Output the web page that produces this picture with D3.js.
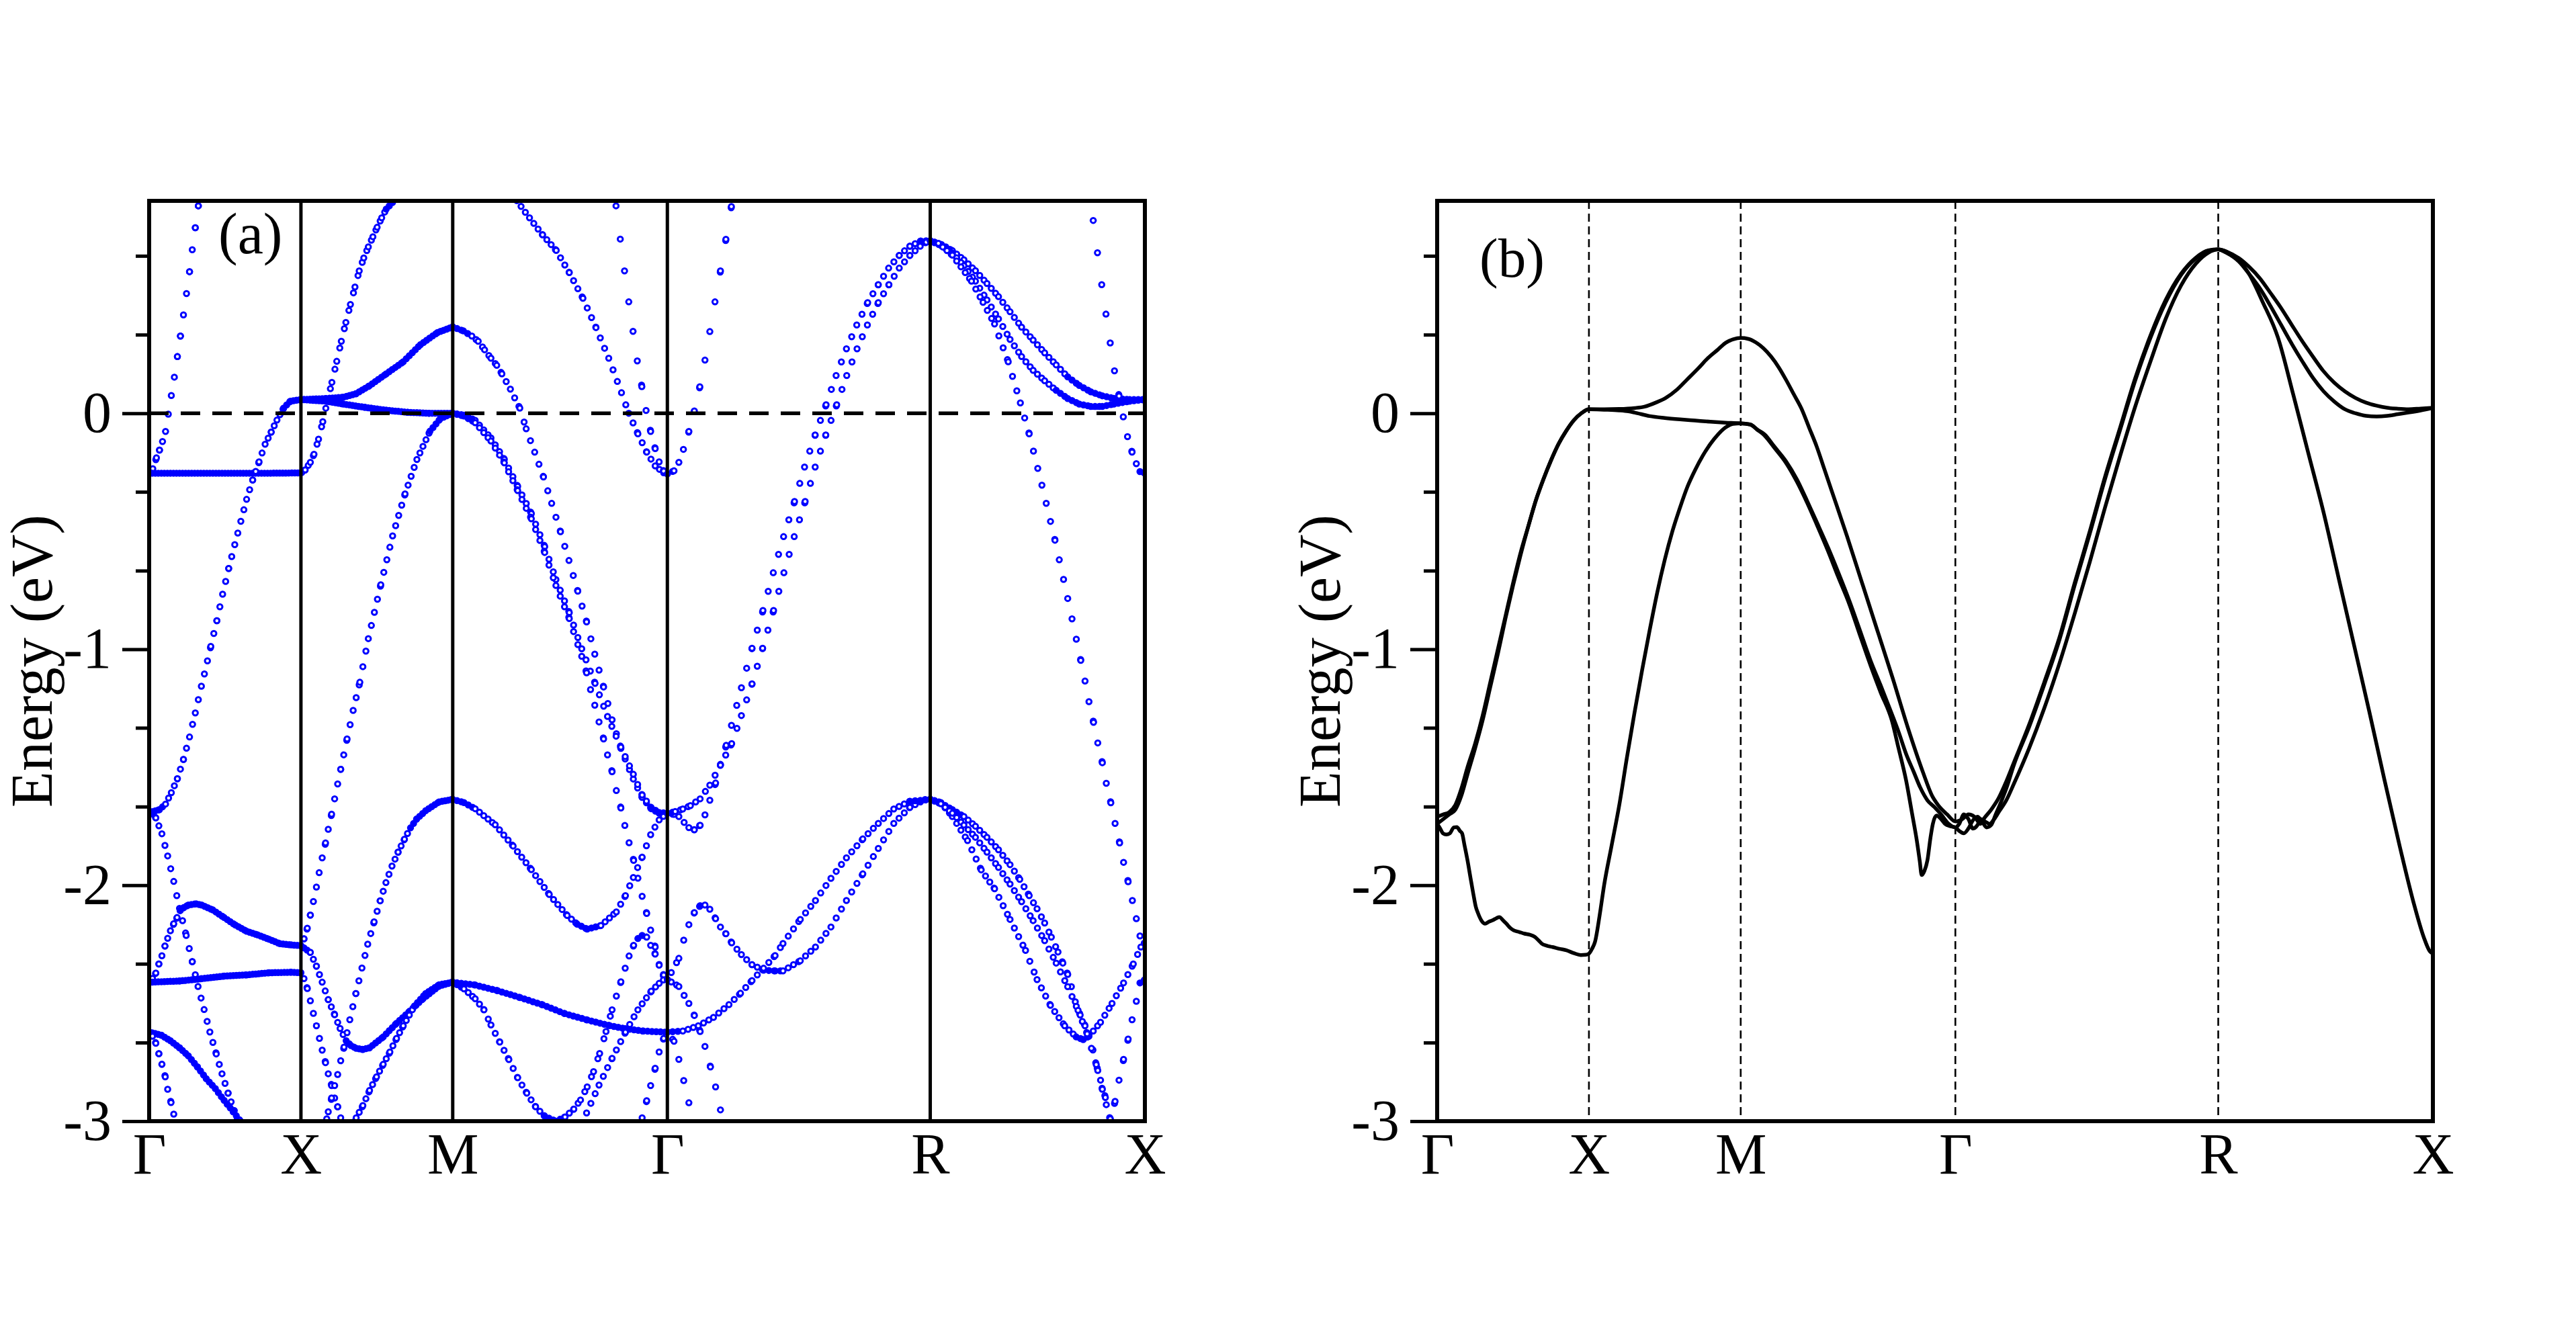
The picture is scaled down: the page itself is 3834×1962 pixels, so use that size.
<!DOCTYPE html>
<html><head><meta charset="utf-8">
<script src="https://cdn.jsdelivr.net/npm/d3@7"></script>
<style>html,body{margin:0;padding:0;background:#fff;}svg{display:block;}</style>
</head><body>
<svg id="chart" width="3834" height="1962"></svg>
<script>
// ---------------- data ----------------
const kLabels = ["Γ", "X", "M", "Γ", "R", "X"];
const kPoints = [0, 0.5, 1.0, 1.7071, 2.5731, 3.2802];
const energyRange = [-3, 0.9];
const yMajorTicks = [-3, -2, -1, 0];
const yMinorTicks = [-2.667, -2.333, -1.667, -1.333, -0.667, -0.333, 0.333, 0.667];
const panelLabels = ["(a)", "(b)"];
const axisTitle = "Energy (eV)";

// panel (a): unfolded bands (k, E)
const aGammaSteepUp = [[0,-0.254],[0.012,-0.235],[0.024,-0.189],[0.034,-0.156],[0.044,-0.12],[0.054,-0.077],[0.063,-0.004],[0.073,0.075],[0.083,0.153],[0.093,0.24],[0.103,0.327],[0.113,0.417],[0.123,0.507],[0.133,0.60],[0.142,0.693],[0.152,0.786],[0.162,0.879],[0.172,0.97]];
const aFlatThenUp = [[0,-0.254],[0.1,-0.254],[0.2,-0.254],[0.3,-0.254],[0.4,-0.254],[0.49,-0.253],[0.503,-0.251],[0.514,-0.24],[0.531,-0.208],[0.543,-0.174],[0.558,-0.11],[0.572,-0.036],[0.587,0.05],[0.602,0.131],[0.618,0.22],[0.633,0.305],[0.648,0.385],[0.663,0.461],[0.678,0.535],[0.692,0.603],[0.707,0.658],[0.722,0.705],[0.737,0.748],[0.751,0.788],[0.766,0.828],[0.781,0.865],[0.802,0.894],[0.83,0.93]];
const aGammaToXTop = [[0,-1.692],[0.034,-1.680],[0.054,-1.656],[0.073,-1.608],[0.093,-1.549],[0.113,-1.467],[0.133,-1.372],[0.152,-1.270],[0.172,-1.157],[0.182,-1.105],[0.203,-0.988],[0.223,-0.879],[0.242,-0.767],[0.262,-0.658],[0.282,-0.557],[0.302,-0.458],[0.321,-0.365],[0.341,-0.283],[0.362,-0.206],[0.382,-0.131],[0.402,-0.080],[0.421,-0.029],[0.443,0.022],[0.465,0.051],[0.5,0.058],[0.584,0.0625],[0.640,0.068],[0.682,0.083],[0.725,0.116],[0.781,0.167],[0.837,0.218],[0.894,0.291],[0.950,0.342],[1.0,0.366],[1.035,0.349],[1.063,0.327],[1.084,0.305],[1.105,0.269],[1.126,0.233],[1.145,0.203],[1.162,0.167],[1.190,0.102],[1.204,0.065],[1.221,0.022],[1.242,-0.066],[1.270,-0.165],[1.299,-0.270],[1.326,-0.382],[1.355,-0.502],[1.383,-0.624],[1.412,-0.754],[1.441,-0.884],[1.468,-1.021],[1.497,-1.160],[1.525,-1.299],[1.554,-1.42],[1.595,-1.55],[1.624,-1.628],[1.654,-1.676],[1.680,-1.695],[1.7071,-1.695]];
const aXtoMFlat = [[0.5,0.058],[0.584,0.051],[0.640,0.039],[0.711,0.025],[0.781,0.013],[0.852,0.004],[0.922,0.0],[1.0,0.0],[1.037,-0.008],[1.074,-0.030],[1.126,-0.105],[1.170,-0.195],[1.214,-0.31],[1.259,-0.425],[1.303,-0.565],[1.340,-0.705],[1.384,-0.845],[1.425,-0.998],[1.469,-1.145],[1.510,-1.285],[1.554,-1.415],[1.595,-1.53],[1.624,-1.618],[1.654,-1.672],[1.680,-1.692],[1.7071,-1.695]];
const aXtoMSteep = [[0.5,-2.256],[0.510,-2.227],[0.521,-2.182],[0.531,-2.127],[0.541,-2.069],[0.551,-2.008],[0.560,-1.947],[0.570,-1.884],[0.581,-1.821],[0.590,-1.763],[0.601,-1.699],[0.611,-1.634],[0.621,-1.571],[0.631,-1.509],[0.652,-1.38],[0.672,-1.259],[0.694,-1.14],[0.722,-0.955],[0.763,-0.727],[0.802,-0.520],[0.843,-0.342],[0.882,-0.196],[0.925,-0.076],[0.960,-0.022],[1.0,0.0],[1.037,-0.012],[1.074,-0.04],[1.126,-0.118],[1.170,-0.21],[1.214,-0.328],[1.259,-0.447],[1.303,-0.59],[1.340,-0.73],[1.384,-0.87],[1.425,-1.03],[1.441,-1.10],[1.454,-1.171],[1.468,-1.237],[1.482,-1.308],[1.497,-1.38],[1.510,-1.448],[1.525,-1.519],[1.539,-1.599],[1.554,-1.673],[1.567,-1.747],[1.581,-1.82],[1.596,-1.895],[1.610,-1.97],[1.624,-2.047],[1.639,-2.12],[1.652,-2.19],[1.667,-2.262],[1.680,-2.336],[1.695,-2.386],[1.7071,-2.40]];
const aTopToGammaA = [[1.19,0.94],[1.211,0.901],[1.253,0.828],[1.296,0.756],[1.341,0.690],[1.384,0.596],[1.429,0.487],[1.472,0.363],[1.514,0.233],[1.556,0.087],[1.580,0.0],[1.610,-0.087],[1.639,-0.165],[1.667,-0.223],[1.695,-0.252],[1.7071,-0.257]];
const aTopToGammaB = [[1.532,0.96],[1.538,0.879],[1.552,0.738],[1.566,0.603],[1.580,0.472],[1.594,0.347],[1.608,0.222],[1.623,0.113],[1.637,0.012],[1.652,-0.077],[1.667,-0.150],[1.680,-0.206],[1.695,-0.245],[1.7071,-0.257]];
const aGammaToTop = [[1.7071,-0.257],[1.729,-0.244],[1.745,-0.208],[1.760,-0.153],[1.778,-0.077],[1.796,0.010],[1.814,0.112],[1.831,0.225],[1.847,0.346],[1.864,0.472],[1.882,0.603],[1.900,0.737],[1.918,0.876],[1.93,0.97]];
const aGammaDown = [[0,-1.692],[0.011,-1.698],[0.022,-1.715],[0.042,-1.782],[0.061,-1.876],[0.081,-1.984],[0.100,-2.098],[0.122,-2.213],[0.142,-2.324],[0.161,-2.429],[0.181,-2.527],[0.200,-2.622],[0.221,-2.715],[0.240,-2.799],[0.260,-2.881],[0.280,-2.955],[0.300,-3.03]];
const aGammaHump = [[0,-2.411],[0.011,-2.395],[0.022,-2.372],[0.032,-2.334],[0.042,-2.299],[0.052,-2.258],[0.061,-2.225],[0.070,-2.193],[0.081,-2.163],[0.092,-2.137],[0.103,-2.105],[0.114,-2.095],[0.129,-2.084],[0.155,-2.079],[0.173,-2.084],[0.210,-2.105],[0.247,-2.137],[0.284,-2.169],[0.321,-2.195],[0.358,-2.211],[0.395,-2.229],[0.431,-2.248],[0.468,-2.253],[0.5,-2.256],[0.531,-2.285],[0.551,-2.343],[0.570,-2.411],[0.590,-2.485],[0.611,-2.549],[0.629,-2.607],[0.649,-2.659],[0.665,-2.68],[0.682,-2.691],[0.704,-2.696],[0.726,-2.689],[0.771,-2.643],[0.815,-2.585],[0.859,-2.533],[0.903,-2.480],[0.955,-2.427],[1.0,-2.411],[1.074,-2.423],[1.148,-2.447],[1.222,-2.476],[1.296,-2.507],[1.369,-2.544],[1.443,-2.571],[1.517,-2.595],[1.569,-2.608],[1.628,-2.618],[1.7071,-2.623]];
const aFlatLow = [[0,-2.411],[0.1,-2.406],[0.173,-2.396],[0.247,-2.385],[0.321,-2.380],[0.395,-2.371],[0.468,-2.369],[0.5,-2.371],[0.510,-2.396],[0.521,-2.438],[0.531,-2.490],[0.541,-2.543],[0.551,-2.596],[0.561,-2.649],[0.570,-2.699],[0.581,-2.752],[0.590,-2.799],[0.601,-2.849],[0.611,-2.902],[0.621,-2.939],[0.631,-2.986],[0.64,-3.04]];
const aGammaLowA = [[0,-2.622],[0.041,-2.636],[0.070,-2.659],[0.1,-2.689],[0.129,-2.723],[0.159,-2.770],[0.188,-2.820],[0.218,-2.862],[0.247,-2.912],[0.277,-2.960],[0.299,-2.997],[0.31,-3.02]];
const aGammaLowB = [[0,-2.622],[0.011,-2.64],[0.022,-2.670],[0.032,-2.714],[0.042,-2.759],[0.053,-2.812],[0.061,-2.865],[0.072,-2.921],[0.081,-2.970],[0.09,-3.02]];
const aRiseToM = [[0.575,-3.05],[0.590,-2.96],[0.601,-2.902],[0.611,-2.849],[0.621,-2.802],[0.631,-2.744],[0.642,-2.686],[0.661,-2.570],[0.681,-2.459],[0.701,-2.351],[0.720,-2.250],[0.741,-2.155],[0.761,-2.066],[0.780,-1.989],[0.800,-1.919],[0.820,-1.860],[0.841,-1.805],[0.861,-1.757],[0.881,-1.720],[0.911,-1.684],[0.955,-1.647],[1.0,-1.636],[1.037,-1.65],[1.074,-1.676],[1.140,-1.744],[1.199,-1.834],[1.259,-1.934],[1.318,-2.039],[1.377,-2.128],[1.41,-2.165],[1.443,-2.186],[1.488,-2.171],[1.539,-2.113],[1.569,-2.044],[1.595,-1.967],[1.624,-1.881],[1.652,-1.786],[1.680,-1.723],[1.7071,-1.695]];
const aRiseToMLow = [[0.67,-3.05],[0.682,-2.986],[0.704,-2.934],[0.726,-2.870],[0.749,-2.812],[0.771,-2.759],[0.793,-2.707],[0.815,-2.649],[0.837,-2.596],[0.874,-2.512],[0.911,-2.459],[0.955,-2.422],[1.0,-2.411],[1.037,-2.439],[1.074,-2.481],[1.103,-2.528],[1.126,-2.592],[1.155,-2.665],[1.185,-2.739],[1.214,-2.816],[1.244,-2.881],[1.273,-2.939],[1.303,-2.979],[1.340,-3.0],[1.370,-2.982],[1.399,-2.949],[1.421,-2.91],[1.443,-2.855],[1.464,-2.79],[1.484,-2.713],[1.505,-2.62],[1.525,-2.528],[1.554,-2.409],[1.581,-2.300],[1.596,-2.255],[1.610,-2.226],[1.624,-2.213],[1.639,-2.22],[1.652,-2.255],[1.667,-2.292],[1.680,-2.339],[1.695,-2.381],[1.7071,-2.397]];
const aBottomToGammaA = [[1.43,-3.04],[1.441,-2.965],[1.482,-2.847],[1.525,-2.734],[1.569,-2.623],[1.610,-2.528],[1.654,-2.449],[1.680,-2.416],[1.7071,-2.388]];
const aBottomToGammaB = [[1.618,-3.04],[1.624,-2.986],[1.639,-2.913],[1.652,-2.849],[1.667,-2.776],[1.680,-2.707],[1.695,-2.649],[1.7071,-2.623]];
const aGammaRightDownA = [[1.7071,-2.623],[1.729,-2.661],[1.745,-2.738],[1.761,-2.828],[1.778,-2.922],[1.79,-3.02]];
const aGammaRightDownB = [[1.7071,-2.40],[1.72,-2.41],[1.745,-2.429],[1.778,-2.501],[1.796,-2.552],[1.815,-2.62],[1.831,-2.683],[1.849,-2.77],[1.866,-2.855],[1.882,-2.952],[1.89,-3.02]];
const aGammaBumpToR = [[1.7071,-2.40],[1.72,-2.37],[1.745,-2.310],[1.761,-2.233],[1.778,-2.167],[1.796,-2.116],[1.815,-2.087],[1.831,-2.084],[1.847,-2.102],[1.866,-2.142],[1.882,-2.177],[1.900,-2.206],[1.919,-2.244],[1.951,-2.294],[1.986,-2.337],[2.024,-2.360],[2.062,-2.363],[2.088,-2.363],[2.145,-2.320],[2.195,-2.262],[2.246,-2.177],[2.297,-2.065],[2.351,-1.952],[2.402,-1.844],[2.453,-1.738],[2.506,-1.670],[2.556,-1.637],[2.5731,-1.636]];
const aGammaLowToR = [[1.7071,-2.622],[1.758,-2.618],[1.809,-2.596],[1.859,-2.560],[1.910,-2.506],[1.948,-2.458],[1.986,-2.404],[2.024,-2.352],[2.062,-2.298],[2.088,-2.247],[2.145,-2.145],[2.195,-2.065],[2.246,-1.971],[2.297,-1.884],[2.351,-1.804],[2.402,-1.738],[2.453,-1.677],[2.506,-1.644],[2.5731,-1.637]];
const aGammaToRUpperA = [[1.7071,-1.695],[1.729,-1.70],[1.745,-1.709],[1.778,-1.756],[1.796,-1.765],[1.815,-1.746],[1.831,-1.702],[1.847,-1.640],[1.866,-1.567],[1.882,-1.488],[1.901,-1.407],[1.951,-1.163],[1.986,-0.996],[2.022,-0.836],[2.056,-0.676],[2.090,-0.523],[2.126,-0.374],[2.159,-0.228],[2.194,-0.092],[2.230,0.036],[2.263,0.160],[2.297,0.273],[2.331,0.374],[2.367,0.469],[2.402,0.545],[2.436,0.615],[2.471,0.669],[2.506,0.708],[2.542,0.730],[2.5731,0.731]];
const aGammaToRUpperB = [[1.7071,-1.695],[1.733,-1.688],[1.758,-1.677],[1.783,-1.663],[1.815,-1.634],[1.847,-1.576],[1.882,-1.491],[1.919,-1.400],[1.951,-1.281],[1.986,-1.147],[2.021,-0.996],[2.057,-0.836],[2.091,-0.676],[2.125,-0.523],[2.161,-0.374],[2.194,-0.228],[2.229,-0.092],[2.265,0.036],[2.298,0.160],[2.332,0.273],[2.366,0.374],[2.402,0.469],[2.437,0.545],[2.471,0.615],[2.506,0.669],[2.54,0.708],[2.56,0.725],[2.5731,0.731]];
const aRtoXUpperA = [[2.5731,0.731],[2.61,0.715],[2.646,0.689],[2.684,0.65],[2.722,0.604],[2.760,0.55],[2.798,0.494],[2.836,0.43],[2.874,0.365],[2.912,0.31],[2.950,0.256],[2.988,0.205],[3.026,0.154],[3.064,0.118],[3.102,0.091],[3.140,0.074],[3.178,0.063],[3.23,0.058],[3.2802,0.058]];
const aRtoXUpperB = [[2.5731,0.731],[2.61,0.71],[2.646,0.679],[2.684,0.625],[2.722,0.560],[2.760,0.480],[2.798,0.400],[2.836,0.313],[2.874,0.240],[2.912,0.182],[2.950,0.138],[2.988,0.097],[3.026,0.0625],[3.064,0.039],[3.102,0.029],[3.140,0.029],[3.178,0.039],[3.23,0.051],[3.2802,0.058]];
const aRtoXSteep = [[2.5731,0.731],[2.60,0.72],[2.646,0.67],[2.709,0.560],[2.747,0.47],[2.785,0.378],[2.83,0.218],[2.870,0.044],[2.899,-0.087],[2.941,-0.305],[2.984,-0.538],[3.026,-0.785],[3.069,-1.047],[3.083,-1.135],[3.096,-1.222],[3.111,-1.310],[3.125,-1.397],[3.140,-1.481],[3.153,-1.568],[3.168,-1.651],[3.182,-1.738],[3.197,-1.821],[3.210,-1.903],[3.225,-1.985],[3.239,-2.065],[3.252,-2.142],[3.264,-2.215],[3.2802,-2.25]];
const aXEdgeSteep = [[3.10,0.91],[3.110,0.817],[3.124,0.68],[3.138,0.545],[3.152,0.42],[3.166,0.298],[3.18,0.18],[3.195,0.073],[3.209,-0.015],[3.223,-0.099],[3.238,-0.165],[3.252,-0.214],[3.264,-0.247],[3.2802,-0.254]];
const aRtoXLowA = [[2.5731,-1.636],[2.608,-1.65],[2.646,-1.709],[2.696,-1.811],[2.741,-1.935],[2.785,-2.015],[2.836,-2.145],[2.887,-2.276],[2.925,-2.400],[2.969,-2.509],[3.016,-2.596],[3.054,-2.643],[3.077,-2.654],[3.096,-2.640],[3.134,-2.581],[3.172,-2.501],[3.210,-2.414],[3.242,-2.334],[3.267,-2.262],[3.2802,-2.233]];
const aRtoXLowB = [[2.5731,-1.636],[2.608,-1.651],[2.646,-1.68],[2.684,-1.709],[2.722,-1.75],[2.760,-1.797],[2.798,-1.85],[2.836,-1.913],[2.868,-1.975],[2.899,-2.044],[2.925,-2.10],[2.950,-2.160],[2.972,-2.22],[2.994,-2.283],[3.010,-2.33],[3.026,-2.378],[3.038,-2.43],[3.051,-2.494],[3.067,-2.55],[3.083,-2.596],[3.096,-2.632],[3.109,-2.698],[3.125,-2.785],[3.140,-2.865],[3.153,-2.930],[3.166,-2.99],[3.175,-3.04]];
const aRtoXLowC = [[2.5731,-1.636],[2.608,-1.655],[2.646,-1.695],[2.684,-1.745],[2.722,-1.797],[2.760,-1.86],[2.798,-1.925],[2.836,-1.995],[2.874,-2.07],[2.912,-2.15],[2.950,-2.235],[2.988,-2.33],[3.026,-2.43],[3.06,-2.53],[3.09,-2.63],[3.12,-2.76],[3.15,-2.9],[3.17,-3.02]];
const aXEdgeLow = [[3.16,-3.03],[3.166,-2.99],[3.182,-2.916],[3.195,-2.826],[3.210,-2.738],[3.225,-2.652],[3.238,-2.570],[3.252,-2.492],[3.264,-2.414],[3.2802,-2.40]];

const bandsA = [aGammaSteepUp, aFlatThenUp, aGammaToXTop, aXtoMFlat, aXtoMSteep, aTopToGammaA, aTopToGammaB, aGammaToTop,
  aGammaDown, aGammaHump, aFlatLow, aGammaLowA, aGammaLowB, aRiseToM, aRiseToMLow, aBottomToGammaA, aBottomToGammaB,
  aGammaRightDownA, aGammaRightDownB, aGammaBumpToR, aGammaLowToR, aGammaToRUpperA, aGammaToRUpperB,
  aRtoXUpperA, aRtoXUpperB, aRtoXSteep, aXEdgeSteep, aRtoXLowA, aRtoXLowB, aRtoXLowC, aXEdgeLow];

// panel (b): three bands (k, E)
const bBand1 = [[0,-1.71],[0.02,-1.70],[0.04,-1.69],[0.06,-1.66],[0.08,-1.59],[0.10,-1.50],[0.125,-1.40],[0.15,-1.28],[0.175,-1.14],[0.2,-1.00],[0.225,-0.86],[0.25,-0.72],[0.275,-0.59],[0.3,-0.48],[0.325,-0.37],[0.35,-0.28],[0.375,-0.20],[0.4,-0.13],[0.425,-0.075],[0.45,-0.03],[0.475,0.0],[0.5,0.017],
  [0.55,0.017],[0.6,0.018],[0.65,0.022],[0.683,0.028],[0.72,0.045],[0.753,0.065],[0.79,0.10],[0.822,0.141],[0.86,0.19],[0.892,0.234],[0.925,0.27],[0.951,0.299],[0.975,0.313],[1.0,0.319],
  [1.025,0.315],[1.05,0.30],[1.075,0.275],[1.10,0.24],[1.125,0.195],[1.15,0.14],[1.175,0.08],[1.20,0.02],[1.225,-0.06],[1.25,-0.14],[1.275,-0.235],[1.30,-0.33],[1.35,-0.52],[1.40,-0.72],[1.45,-0.92],[1.50,-1.12],[1.55,-1.33],[1.60,-1.52],[1.63,-1.62],[1.65,-1.66],[1.68,-1.70],[1.7071,-1.73],
  [1.73,-1.72],[1.75,-1.70],[1.77,-1.71],[1.79,-1.74],[1.80,-1.72],[1.825,-1.68],[1.85,-1.63],[1.875,-1.56],[1.90,-1.48],[1.95,-1.32],[2.00,-1.14],[2.05,-0.95],[2.10,-0.72],[2.15,-0.50],[2.20,-0.27],[2.25,-0.06],[2.30,0.15],[2.35,0.33],[2.40,0.48],[2.45,0.59],[2.50,0.66],[2.54,0.69],[2.5731,0.694],
  [2.60,0.685],[2.641,0.657],[2.675,0.62],[2.71,0.572],[2.745,0.51],[2.78,0.446],[2.815,0.375],[2.85,0.305],[2.885,0.24],[2.92,0.178],[2.955,0.13],[2.99,0.093],[3.025,0.065],[3.06,0.045],[3.095,0.032],[3.13,0.023],[3.165,0.019],[3.20,0.017],[3.24,0.02],[3.2802,0.023]];
const bBand2 = [[0,-1.74],[0.02,-1.72],[0.04,-1.70],[0.06,-1.68],[0.08,-1.62],[0.10,-1.53],[0.125,-1.42],[0.15,-1.30],[0.175,-1.16],[0.2,-1.02],[0.225,-0.87],[0.25,-0.73],[0.275,-0.60],[0.3,-0.48],[0.325,-0.37],[0.35,-0.28],[0.375,-0.20],[0.4,-0.13],[0.425,-0.075],[0.45,-0.03],[0.475,0.0],[0.5,0.017],
  [0.55,0.015],[0.6,0.012],[0.63,0.008],[0.65,0.003],[0.7,-0.012],[0.75,-0.02],[0.8,-0.026],[0.85,-0.031],[0.9,-0.036],[0.95,-0.04],[1.0,-0.043],
  [1.032,-0.048],[1.055,-0.07],[1.079,-0.09],[1.11,-0.14],[1.149,-0.203],[1.185,-0.28],[1.219,-0.372],[1.25,-0.46],[1.288,-0.570],[1.32,-0.67],[1.358,-0.795],[1.39,-0.91],[1.428,-1.049],[1.46,-1.15],[1.498,-1.275],[1.52,-1.35],[1.545,-1.444],[1.57,-1.52],[1.591,-1.585],[1.615,-1.64],[1.638,-1.669],[1.66,-1.70],[1.685,-1.74],[1.7071,-1.755],
  [1.72,-1.74],[1.735,-1.70],[1.75,-1.72],[1.765,-1.76],[1.78,-1.745],[1.79,-1.72],[1.805,-1.73],[1.82,-1.74],[1.835,-1.72],[1.85,-1.69],[1.875,-1.64],[1.90,-1.57],[1.95,-1.42],[2.00,-1.25],[2.05,-1.06],[2.10,-0.85],[2.15,-0.63],[2.20,-0.40],[2.25,-0.18],[2.30,0.03],[2.35,0.22],[2.40,0.40],[2.45,0.54],[2.50,0.635],[2.54,0.68],[2.5731,0.694],
  [2.60,0.68],[2.641,0.643],[2.675,0.59],[2.71,0.530],[2.745,0.455],[2.78,0.375],[2.815,0.295],[2.85,0.22],[2.885,0.15],[2.92,0.093],[2.955,0.05],[2.99,0.017],[3.025,0.0],[3.06,-0.011],[3.095,-0.014],[3.13,-0.011],[3.165,-0.004],[3.20,0.003],[3.24,0.012],[3.2802,0.023]];
const bBand3 = [[0,-1.74],[0.01,-1.76],[0.019,-1.78],[0.03,-1.785],[0.042,-1.78],[0.055,-1.755],[0.065,-1.754],[0.075,-1.77],[0.082,-1.78],[0.09,-1.83],[0.1,-1.895],[0.11,-1.97],[0.119,-2.036],[0.127,-2.09],[0.135,-2.12],[0.146,-2.15],[0.158,-2.163],[0.17,-2.155],[0.182,-2.149],[0.195,-2.14],[0.205,-2.135],[0.218,-2.15],[0.228,-2.163],[0.24,-2.18],[0.252,-2.191],[0.27,-2.198],[0.287,-2.205],[0.305,-2.21],[0.322,-2.219],[0.335,-2.235],[0.345,-2.248],[0.36,-2.256],[0.380,-2.262],[0.405,-2.27],[0.426,-2.276],[0.45,-2.288],[0.473,-2.296],[0.49,-2.295],[0.5,-2.29],
  [0.51,-2.27],[0.52,-2.24],[0.535,-2.13],[0.55,-2.0],[0.575,-1.83],[0.6,-1.66],[0.625,-1.46],[0.65,-1.27],[0.675,-1.09],[0.7,-0.92],[0.725,-0.76],[0.75,-0.62],[0.775,-0.50],[0.8,-0.40],[0.825,-0.31],[0.85,-0.24],[0.875,-0.18],[0.9,-0.13],[0.925,-0.09],[0.95,-0.06],[0.975,-0.045],[1.0,-0.043],
  [1.032,-0.048],[1.055,-0.07],[1.079,-0.095],[1.11,-0.145],[1.149,-0.21],[1.185,-0.29],[1.219,-0.38],[1.25,-0.47],[1.288,-0.585],[1.32,-0.69],[1.358,-0.81],[1.39,-0.93],[1.428,-1.07],[1.46,-1.18],[1.498,-1.303],[1.52,-1.42],[1.545,-1.557],[1.565,-1.70],[1.580,-1.81],[1.59,-1.90],[1.596,-1.957],[1.605,-1.94],[1.615,-1.895],[1.625,-1.80],[1.633,-1.74],[1.645,-1.705],[1.66,-1.72],[1.673,-1.74],[1.69,-1.75],[1.7071,-1.755],
  [1.72,-1.77],[1.735,-1.78],[1.75,-1.76],[1.765,-1.725],[1.78,-1.71],[1.795,-1.73],[1.81,-1.755],[1.825,-1.745],[1.84,-1.70],[1.86,-1.64],[1.875,-1.59],[1.90,-1.49],[1.95,-1.33],[2.00,-1.15],[2.05,-0.96],[2.10,-0.73],[2.15,-0.51],[2.20,-0.28],[2.25,-0.07],[2.30,0.14],[2.35,0.32],[2.40,0.47],[2.45,0.585],[2.50,0.657],[2.54,0.689],[2.5731,0.694],
  [2.60,0.685],[2.62,0.67],[2.67,0.60],[2.72,0.47],[2.77,0.32],[2.82,0.08],[2.87,-0.17],[2.92,-0.42],[2.97,-0.70],[3.02,-0.98],[3.07,-1.26],[3.12,-1.55],[3.17,-1.83],[3.22,-2.09],[3.25,-2.22],[3.27,-2.28],[3.2802,-2.29]];
const bandsB = [bBand1, bBand2, bBand3];

// ---------------- layout ----------------
const layout = {top: 299, bottom: 1669, a: [222, 1704], b: [2139, 3621]};
const FONT = "'Liberation Serif','Times New Roman',Times,serif";
const svg = d3.select("#chart");
svg.append("rect").attr("width", 3834).attr("height", 1962).attr("fill", "#fff");
const y = d3.scaleLinear().domain(energyRange).range([layout.bottom, layout.top]);

function makePanel(range, id) {
  const x = d3.scaleLinear().domain([kPoints[0], kPoints[kPoints.length - 1]]).range(range);
  svg.append("clipPath").attr("id", id).append("rect")
    .attr("x", range[0]).attr("y", layout.top)
    .attr("width", range[1] - range[0]).attr("height", layout.bottom - layout.top);
  return x;
}

function drawAxes(x, range, labelIdx, labelPos, labelSize) {
  const left = range[0];
  const minor = svg.append("g").attr("transform", `translate(${left},0)`)
    .call(d3.axisLeft(y).tickValues(yMinorTicks).tickSize(20).tickFormat(""));
  minor.select(".domain").remove();
  minor.selectAll("line").attr("stroke", "#000").attr("stroke-width", 5);
  const major = svg.append("g").attr("transform", `translate(${left},0)`)
    .call(d3.axisLeft(y).tickValues(yMajorTicks).tickSize(40).tickPadding(16).tickFormat(d3.format("d")));
  major.select(".domain").remove();
  major.selectAll("line").attr("stroke", "#000").attr("stroke-width", 5);
  major.selectAll("text").attr("font-family", FONT).attr("font-size", 86).attr("fill", "#000")
    .text(d => String(d).replace("\u2212", "-"));
  const kx = svg.append("g").attr("transform", `translate(0,${layout.bottom})`)
    .call(d3.axisBottom(x).tickValues(kPoints).tickSize(0).tickPadding(17).tickFormat((d, i) => kLabels[i]));
  kx.select(".domain").remove();
  kx.selectAll("text").attr("font-family", FONT).attr("font-size", 86).attr("fill", "#000");
  svg.append("text").attr("font-family", FONT).attr("font-size", 88).attr("text-anchor", "middle")
    .attr("transform", `translate(${left - 145},${(layout.top + layout.bottom) / 2}) rotate(-90)`)
    .text(axisTitle);
  svg.append("text").attr("font-family", FONT).attr("font-size", labelSize)
    .attr("x", labelPos[0]).attr("y", labelPos[1]).text(panelLabels[labelIdx]);
}

// ---------- panel (a) ----------
const xa = makePanel(layout.a, "clipA");
const gA = svg.append("g").attr("clip-path", "url(#clipA)");
const segStepA = kPoints.slice(1).map((k, s) => (xa(k) - xa(kPoints[s])) / 50);

function ringBand(g, band) {
  for (let i = 0; i < band.length - 1; i++) {
    const p = band[i], q = band[i + 1];
    const x1 = xa(p[0]), y1 = y(p[1]), x2 = xa(q[0]), y2 = y(q[1]);
    const km = (p[0] + q[0]) / 2;
    let s = 0;
    while (s < kPoints.length - 2 && km > kPoints[s + 1]) s++;
    const dx = Math.abs(x2 - x1), len = Math.hypot(x2 - x1, y2 - y1);
    const gap = Math.max(3.5, dx > 0.01 ? segStepA[s] * len / dx : len + 1);
    const dash = "0 " + gap.toFixed(2);
    g.append("line").attr("x1", x1).attr("y1", y1).attr("x2", x2).attr("y2", y2)
      .attr("stroke", "#0000ff").attr("stroke-width", 10.5).attr("stroke-linecap", "round")
      .attr("stroke-dasharray", dash);
    if (gap >= 8) {
      g.append("line").attr("x1", x1).attr("y1", y1).attr("x2", x2).attr("y2", y2)
        .attr("stroke", "#fff").attr("stroke-width", 4.5).attr("stroke-linecap", "round")
        .attr("stroke-dasharray", dash);
    }
  }
}
bandsA.forEach(b => ringBand(gA, b));

kPoints.slice(1, -1).forEach(k => {
  svg.append("line").attr("x1", xa(k)).attr("x2", xa(k)).attr("y1", layout.top).attr("y2", layout.bottom)
    .attr("stroke", "#000").attr("stroke-width", 5);
});
svg.append("line").attr("x1", layout.a[0]).attr("x2", layout.a[1]).attr("y1", y(0)).attr("y2", y(0))
  .attr("stroke", "#000").attr("stroke-width", 5.5).attr("stroke-dasharray", "29 18");
svg.append("rect").attr("x", layout.a[0]).attr("y", layout.top)
  .attr("width", layout.a[1] - layout.a[0]).attr("height", layout.bottom - layout.top)
  .attr("fill", "none").attr("stroke", "#000").attr("stroke-width", 6);
drawAxes(xa, layout.a, 0, [325, 377], 86);

// ---------- panel (b) ----------
const xb = makePanel(layout.b, "clipB");
kPoints.slice(1, -1).forEach(k => {
  svg.append("line").attr("x1", xb(k)).attr("x2", xb(k)).attr("y1", layout.top).attr("y2", layout.bottom)
    .attr("stroke", "#000").attr("stroke-width", 2.6).attr("stroke-dasharray", "12 7");
});
const lineB = d3.line().x(d => xb(d[0])).y(d => y(d[1])).curve(d3.curveMonotoneX);
const gB = svg.append("g").attr("clip-path", "url(#clipB)");
bandsB.forEach(b => {
  gB.append("path").attr("d", lineB(b)).attr("fill", "none").attr("stroke", "#000")
    .attr("stroke-width", 5.5).attr("stroke-linejoin", "round").attr("stroke-linecap", "round");
});
svg.append("rect").attr("x", layout.b[0]).attr("y", layout.top)
  .attr("width", layout.b[1] - layout.b[0]).attr("height", layout.bottom - layout.top)
  .attr("fill", "none").attr("stroke", "#000").attr("stroke-width", 6);
drawAxes(xb, layout.b, 1, [2202, 412], 83);
</script>
</body></html>
